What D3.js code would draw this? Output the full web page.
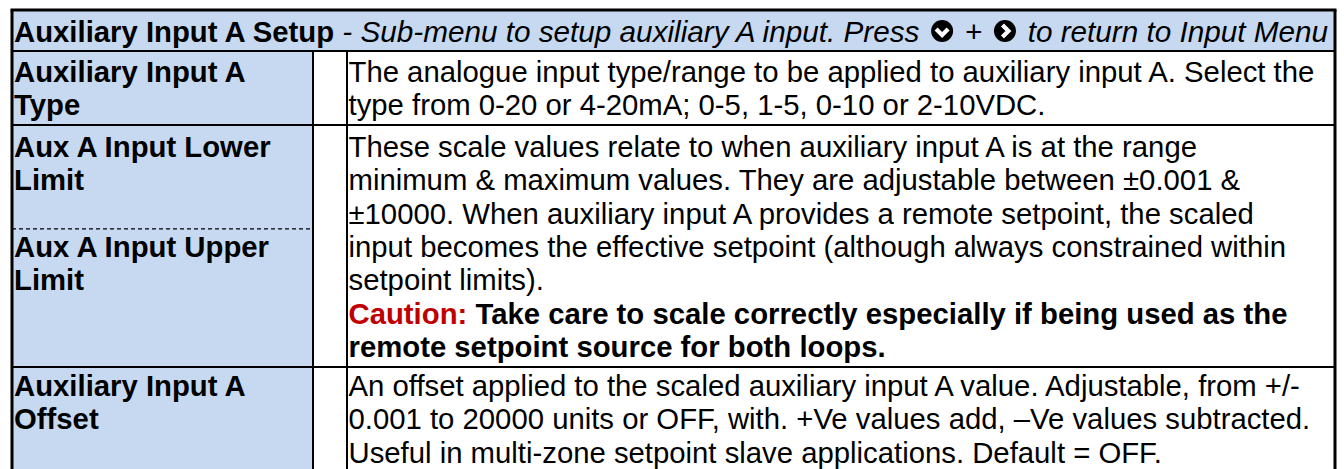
<!DOCTYPE html>
<html><head><meta charset="utf-8">
<script src="https://cdn.jsdelivr.net/npm/d3@7"></script>
<style>
body{margin:0;background:#fff}
svg{display:block}
text{font-family:"Liberation Sans",Arial,Helvetica,sans-serif}
</style>
</head><body>
<svg id="chart" width="1344" height="469"></svg>
<script>
// ---------- data ----------
const headerTitle = "Auxiliary Input A Setup";
const headerParts = [
  {t: " - Sub-menu to setup auxiliary A input. Press ", kind: "text"},
  {t: "down", kind: "icon"},
  {t: " + ", kind: "text"},
  {t: "right", kind: "icon"},
  {t: " to return to Input Menu", kind: "text"}
];
const rowLabels = [
  ["Auxiliary Input A", "Type"],
  ["Aux A Input Lower", "Limit", "", "Aux A Input Upper", "Limit"],
  ["Auxiliary Input A", "Offset"]
];
const rowDividers = [null, 3, null];
const rowLineCounts = [2, 7, 3];
const rowDescriptions = [
  [
    [["The analogue input type/range to be applied to auxiliary input A. Select the", "n"]],
    [["type from 0-20 or 4-20mA; 0-5, 1-5, 0-10 or 2-10VDC.", "n"]]
  ],
  [
    [["These scale values relate to when auxiliary input A is at the range", "n"]],
    [["minimum & maximum values. They are adjustable between \u00b10.001 &", "n"]],
    [["\u00b110000. When auxiliary input A provides a remote setpoint, the scaled", "n"]],
    [["input becomes the effective setpoint (although always constrained within", "n"]],
    [["setpoint limits).", "n"]],
    [["Caution:", "r"], [" Take care to scale correctly especially if being used as the", "b"]],
    [["remote setpoint source for both loops.", "b"]]
  ],
  [
    [["An offset applied to the scaled auxiliary input A value. Adjustable, from +/-", "n"]],
    [["0.001 to 20000 units or OFF, with. +Ve values add, \u2013Ve values subtracted.", "n"]],
    [["Useful in multi-zone setpoint slave applications. Default = OFF.", "n"]]
  ]
];

// ---------- layout ----------
const W = 1344, H = 469;
const fontSize = 29.3;
const hdrItalicSize = 29.7;
const lineH = 33.3;
const firstBase = [31, 32, 29];
const blue = "#C6D9F1";
const red = "#C00000";
const xLeft = 12, xRight = 1335, yTop = 10;
const headerBottom = 51;
const rowPad = [7.4, 9, 0];
const svg = d3.select("#chart");

const colX = d3.scaleOrdinal().domain(["label", "gap", "desc", "end"]).range([xLeft, 313, 347, xRight]);

const rowHeights = rowLineCounts.map((n, i) => n * lineH + rowPad[i]);
const cum = [0];
rowHeights.forEach(h => cum.push(cum[cum.length - 1] + h));
const y = d3.scaleLinear().domain([0, cum[cum.length - 1]]).range([headerBottom, headerBottom + cum[cum.length - 1]]);
const rowTop = i => y(cum[i]);
const lineBase = (i, k) => rowTop(i) + firstBase[i] + k * lineH;

// backgrounds
svg.append("rect").attr("x", xLeft).attr("y", yTop).attr("width", xRight - xLeft).attr("height", headerBottom - yTop).attr("fill", blue);
svg.selectAll("rect.lab").data(rowLineCounts).join("rect").attr("class", "lab")
  .attr("x", colX("label")).attr("y", (d, i) => rowTop(i))
  .attr("width", colX("gap") - colX("label")).attr("height", (d, i) => Math.max(0, H - rowTop(i)))
  .attr("fill", blue);

// header text
const hBase = 42;
const hdr = svg.append("text").attr("x", xLeft + 2).attr("y", hBase).attr("font-size", fontSize).attr("fill", "#000");
hdr.append("tspan").attr("font-weight", "bold").text(headerTitle);
let cursor = xLeft + 2 + hdr.node().getComputedTextLength();
headerParts.forEach(p => {
  if (p.kind === "text") {
    const t = svg.append("text").attr("x", cursor).attr("y", hBase).attr("font-size", hdrItalicSize)
      .attr("font-style", "italic").attr("xml:space", "preserve").style("white-space", "pre").text(p.t);
    cursor += t.node().getComputedTextLength();
  } else {
    const r = 11, m = 3.5, cx = cursor + m + r, cy = 31;
    const g = svg.append("g").attr("transform", `translate(${cx},${cy})`);
    g.append("circle").attr("r", r).attr("fill", "#000");
    const path = p.t === "down"
      ? "M-6,-2 L0,4 L6,-2"
      : "M-2.5,-6 L3.5,0 L-2.5,6";
    g.append("path").attr("d", path).attr("fill", "none").attr("stroke", "#fff").attr("stroke-width", 4.2);
    cursor += 2 * r + 2 * m;
  }
});

// labels
rowLabels.forEach((lines, i) => {
  svg.append("g").selectAll("text").data(lines).join("text")
    .attr("x", colX("label") + 2).attr("y", (d, k) => lineBase(i, k))
    .attr("font-size", fontSize).attr("font-weight", "bold").attr("fill", "#000").text(d => d);
});

// descriptions
rowDescriptions.forEach((lines, i) => {
  const g = svg.append("g");
  lines.forEach((runs, k) => {
    const t = g.append("text").attr("x", colX("desc") + 1.5).attr("y", lineBase(i, k))
      .attr("font-size", fontSize).attr("xml:space", "preserve").style("white-space", "pre");
    runs.forEach(([s, st]) => {
      t.append("tspan").text(s)
        .attr("font-weight", st === "n" ? "normal" : "bold")
        .attr("fill", st === "r" ? red : "#000");
    });
  });
});

// dashed dividers in label column
rowDividers.forEach((d, i) => {
  if (d === null) return;
  const yy = lineBase(i, d) - 28;
  svg.append("line").attr("x1", colX("label")).attr("x2", colX("gap")).attr("y1", yy).attr("y2", yy)
    .attr("stroke", "#000").attr("stroke-width", 1.3).attr("stroke-dasharray", "4,3");
});

// grid lines
const hl = [headerBottom, ...rowLineCounts.slice(1).map((d, i) => rowTop(i + 1))];
svg.selectAll("line.h").data(hl).join("line").attr("class", "h")
  .attr("x1", xLeft).attr("x2", xRight).attr("y1", d => d).attr("y2", d => d)
  .attr("stroke", "#000").attr("stroke-width", 2);
["gap", "desc"].forEach(c => {
  svg.append("line").attr("x1", colX(c)).attr("x2", colX(c)).attr("y1", headerBottom).attr("y2", H)
    .attr("stroke", "#000").attr("stroke-width", 2);
});
// outer borders
svg.append("line").attr("x1", xLeft - 1.5).attr("x2", xRight + 1.5).attr("y1", yTop).attr("y2", yTop).attr("stroke", "#000").attr("stroke-width", 3);
svg.append("line").attr("x1", xLeft).attr("x2", xLeft).attr("y1", yTop).attr("y2", H).attr("stroke", "#000").attr("stroke-width", 3);
svg.append("line").attr("x1", xRight).attr("x2", xRight).attr("y1", yTop).attr("y2", H).attr("stroke", "#000").attr("stroke-width", 3);
</script>
</body></html>
